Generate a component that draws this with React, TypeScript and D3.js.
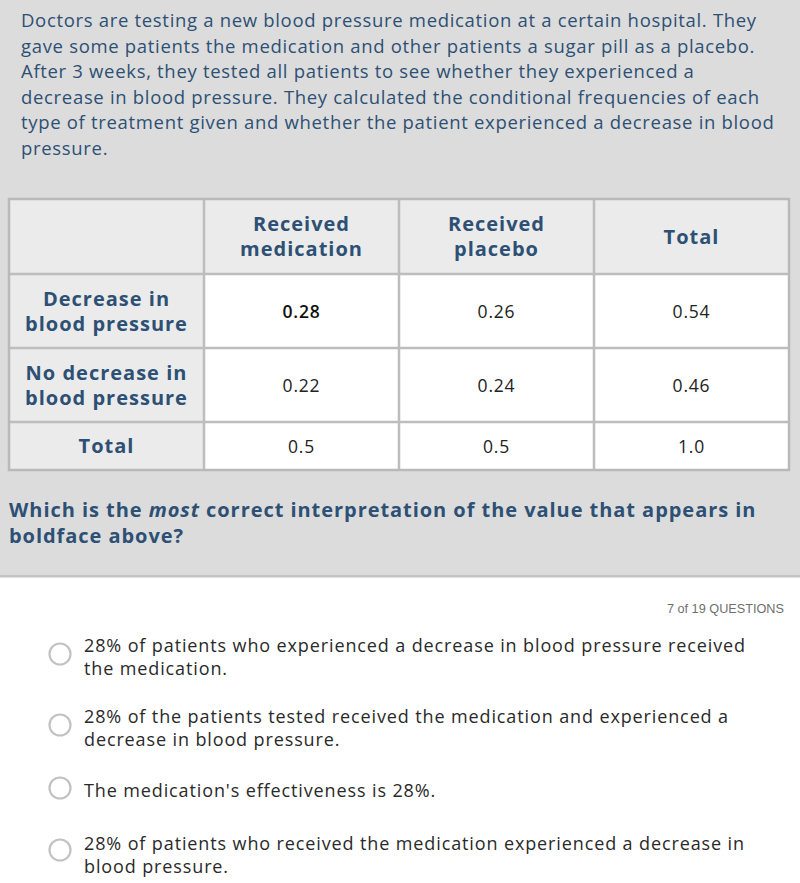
import React from "react";
import * as d3 from "d3";

const introLines = [
  "Doctors are testing a new blood pressure medication at a certain hospital. They",
  "gave some patients the medication and other patients a sugar pill as a placebo.",
  "After 3 weeks, they tested all patients to see whether they experienced a",
  "decrease in blood pressure. They calculated the conditional frequencies of each",
  "type of treatment given and whether the patient experienced a decrease in blood",
  "pressure.",
];

const columnKeys = ["label", "medication", "placebo", "total"];
const columnHeaders = [[], ["Received", "medication"], ["Received", "placebo"], ["Total"]];
const rowLabels = [["Decrease in", "blood pressure"], ["No decrease in", "blood pressure"], ["Total"]];
const cellValues = [
  [0.28, 0.26, 0.54],
  [0.22, 0.24, 0.46],
  [0.5, 0.5, 1.0],
];
const cellLabels = [
  ["0.28", "0.26", "0.54"],
  ["0.22", "0.24", "0.46"],
  ["0.5", "0.5", "1.0"],
];
const boldCell = [0, 0];

const questionLine1 = ["Which is the ", "most", " correct interpretation of the value that appears in"];
const questionLine2 = "boldface above?";
const progressLabel = "7 of 19 QUESTIONS";

const options = [
  ["28% of patients who experienced a decrease in blood pressure received", "the medication."],
  ["28% of the patients tested received the medication and experienced a", "decrease in blood pressure."],
  ["The medication's effectiveness is 28%."],
  ["28% of patients who received the medication experienced a decrease in", "blood pressure."],
];

const W = 800;
const H = 883;
const BLUE = "#2d5074";
const FONT = "'Open Sans', sans-serif";

export default function App() {
  const x = d3.scaleBand<string>().domain(columnKeys).range([9, 789]).paddingInner(0).paddingOuter(0);
  const rowHeights = [75, 74, 74, 48];
  const rowTops: number[] = Array.from(d3.cumsum([199, ...rowHeights]));
  const tableTop = rowTops[0];
  const tableBottom = rowTops[rowTops.length - 1];
  const lineY = d3.scaleLinear().domain([0, 1]).range([27, 52.5]);
  const optTop = [652, 723, 797, 850];
  const optCircle = [654, 725, 788, 850];

  return (
    <svg
      width={W}
      height={H}
      style={{ position: "absolute", left: 0, top: 0, display: "block" }}
      fontFamily={FONT}
    >
      <rect x={0} y={0} width={W} height={H} fill="#ffffff" />
      <rect x={0} y={0} width={W} height={576} fill="#dcdcdc" />
      <rect x={0} y={575} width={W} height={2.5} fill="#c3c3c3" />

      {introLines.map((t, i) => (
        <text key={i} x={21} y={lineY(i)} fontSize={18.5} fill={BLUE} letterSpacing={0.68}>
          {t}
        </text>
      ))}

      <g>
        <rect x={9} y={tableTop} width={780} height={tableBottom - tableTop} fill="#ebebeb" />
        {cellValues.map((row, ri) =>
          row.map((v, ci) => (
            <rect
              key={`bg${ri}-${ci}`}
              x={x(columnKeys[ci + 1])!}
              y={rowTops[ri + 1]}
              width={x.bandwidth()}
              height={rowHeights[ri + 1]}
              fill="#ffffff"
            />
          ))
        )}
        {columnKeys.slice(1).map((k) => (
          <line key={k} x1={x(k)!} x2={x(k)!} y1={tableTop} y2={tableBottom} stroke="#bdbdbd" strokeWidth={2.5} />
        ))}
        {rowTops.slice(1, -1).map((y, i) => (
          <line key={i} x1={9} x2={789} y1={y} y2={y} stroke="#bdbdbd" strokeWidth={2.5} />
        ))}
        <rect x={9} y={tableTop} width={780} height={tableBottom - tableTop} fill="none" stroke="#b9b9b9" strokeWidth={2.5} />

        {columnHeaders.map((lines, ci) => {
          const cx = x(columnKeys[ci])! + x.bandwidth() / 2;
          const cy = (rowTops[0] + rowTops[1]) / 2;
          const start = cy + 7 - ((lines.length - 1) * 25) / 2;
          return lines.map((t, li) => (
            <text key={`h${ci}-${li}`} x={cx} y={start + li * 25} textAnchor="middle" fontSize={20} fontWeight={700} fill={BLUE} letterSpacing={1.0}>
              {t}
            </text>
          ));
        })}
        {rowLabels.map((lines, ri) => {
          const cx = x(columnKeys[0])! + x.bandwidth() / 2;
          const cy = (rowTops[ri + 1] + rowTops[ri + 2]) / 2;
          const start = cy + 7 - ((lines.length - 1) * 25) / 2;
          return lines.map((t, li) => (
            <text key={`r${ri}-${li}`} x={cx} y={start + li * 25} textAnchor="middle" fontSize={20} fontWeight={700} fill={BLUE} letterSpacing={1.0}>
              {t}
            </text>
          ));
        })}
        {cellLabels.map((row, ri) =>
          row.map((t, ci) => {
            const cx = x(columnKeys[ci + 1])! + x.bandwidth() / 2;
            const cy = (rowTops[ri + 1] + rowTops[ri + 2]) / 2;
            const isBold = ri === boldCell[0] && ci === boldCell[1];
            return (
              <text key={`c${ri}-${ci}`} x={cx} y={cy + 6.5} textAnchor="middle" fontSize={17.5} fontWeight={isBold ? 600 : 400} fill={isBold ? "#111" : "#222"} letterSpacing={0.8}>
                {t}
              </text>
            );
          })
        )}
      </g>

      <text x={9} y={517} fontSize={20} fontWeight={700} fill={BLUE} letterSpacing={0.95}>
        <tspan>{questionLine1[0]}</tspan>
        <tspan fontStyle="italic">{questionLine1[1]}</tspan>
        <tspan>{questionLine1[2]}</tspan>
      </text>
      <text x={9} y={543} fontSize={20} fontWeight={700} fill={BLUE} letterSpacing={0.95}>
        {questionLine2}
      </text>

      <text x={784} y={613} textAnchor="end" fontSize={12.7} fill="#6f6f6f" fontFamily="'Liberation Sans', Arial, sans-serif">
        {progressLabel}
      </text>

      {options.map((lines, oi) => (
        <g key={oi}>
          <circle cx={60} cy={optCircle[oi]} r={10.5} fill="#fff" stroke="#c2c2c2" strokeWidth={2.2} />
          {lines.map((t, li) => (
            <text key={li} x={84} y={optTop[oi] + li * 22.5} fontSize={18} fill="#2a2a2a" letterSpacing={0.88}>
              {t}
            </text>
          ))}
        </g>
      ))}
    </svg>
  );
}
